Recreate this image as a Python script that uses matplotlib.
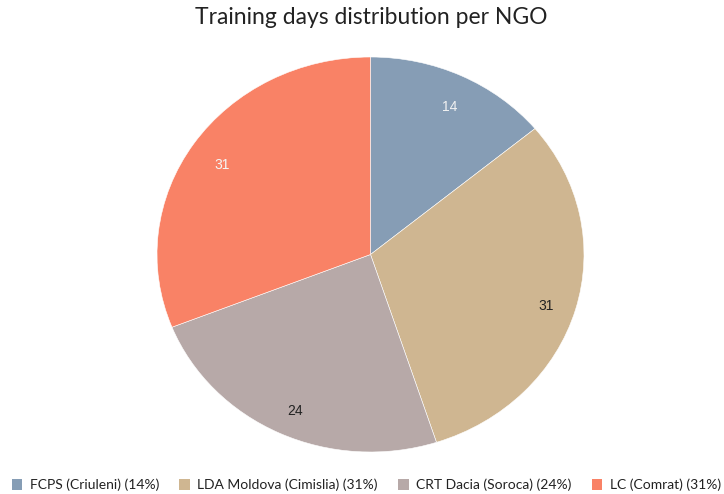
import matplotlib.pyplot as plt
import matplotlib.transforms as mtransforms
from matplotlib.patches import Patch

ngos = ['FCPS (Criuleni)', 'LDA Moldova (Cimislia)', 'CRT Dacia (Soroca)', 'LC (Comrat)']
days = [14, 31, 24, 31]
colors = ['#869db5', '#cfb691', '#b7a9a8', '#f98266']
label_colors = ['#f2f2f2', '#222222', '#222222', '#f5f5f5']

total = sum(days)
pcts = [round(d * 100 / total) for d in days]

fig = plt.figure(figsize=(7.24, 4.94), dpi=100)
ax = fig.add_axes([157 / 724, 42 / 494, 427 / 724, 395 / 494])

wedges, texts = ax.pie(days, colors=colors, labels=[str(d) for d in days],
                       startangle=90, counterclock=False, labeldistance=0.85,
                       wedgeprops=dict(edgecolor='white', linewidth=0.4),
                       textprops=dict(family='Liberation Sans', fontsize=10))
ax.set_aspect('auto')
ax.set_xlim(-1, 1)
ax.set_ylim(-1, 1)
# labels sit a few pixels lower in the original
shift = mtransforms.offset_copy(ax.transData, fig=fig, x=1.5, y=-4.5, units='dots')
for t, c in zip(texts, label_colors):
    t.set_color(c)
    t.set_ha('center')
    t.set_va('center')
    t.set_transform(shift)

fig.text(0.5124, 1 - 18 / 494, 'Training days distribution per NGO', ha='center', va='center',
         family='Lato', fontsize=16.5, color='#222222')

handles = [Patch(facecolor=c, edgecolor='none') for c in colors]
labels = ['%s (%d%%)' % (n, p) for n, p in zip(ngos, pcts)]
fig.legend(handles, labels, ncol=4, loc='center', bbox_to_anchor=(0.506, 1 - 485 / 494),
           frameon=False, prop=dict(family='Lato', size=10), handlelength=0.75,
           handleheight=0.75, handletextpad=0.55, columnspacing=1.45, labelcolor='#222222',
           borderpad=0, borderaxespad=0)

fig.savefig('out.png', dpi=100)
